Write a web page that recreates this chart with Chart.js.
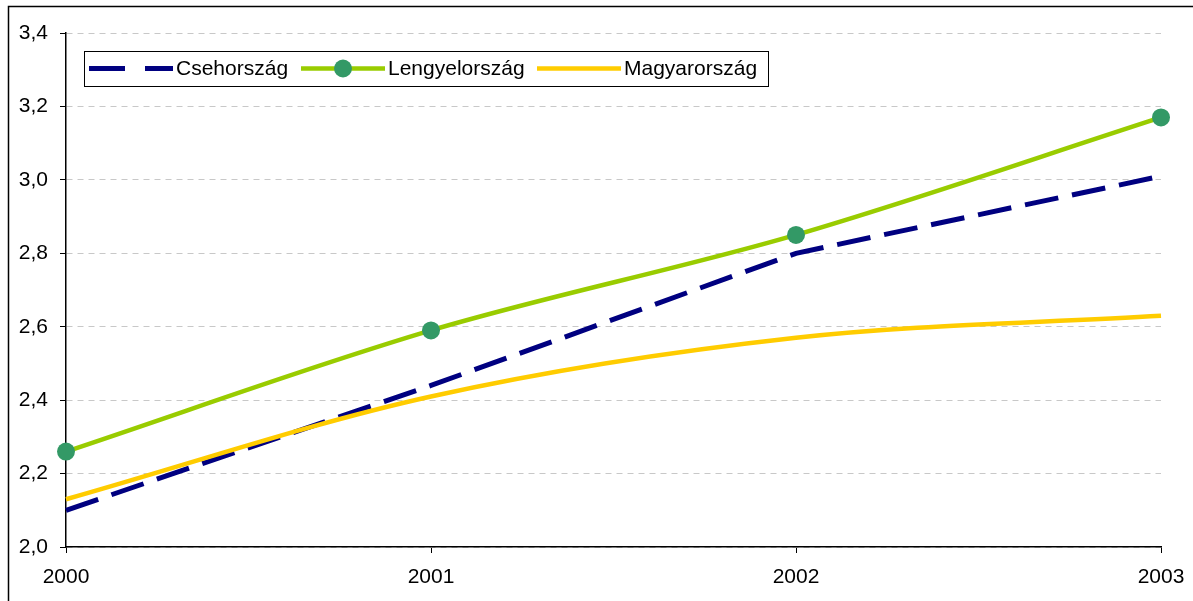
<!DOCTYPE html>
<html>
<head>
<meta charset="utf-8">
<script src="https://cdn.jsdelivr.net/npm/chart.js@4/dist/chart.umd.min.js"></script>
<style>
  html, body { margin: 0; padding: 0; background: #fff; }
  #wrap { width: 1193px; height: 601px; position: relative; }
</style>
</head>
<body>
<div id="wrap"><canvas id="chart"></canvas></div>
<script>
// data
const years   = ["2000", "2001", "2002", "2003"];
const cseh    = [2.10, 2.44, 2.80, 3.01];
const lengyel = [2.26, 2.59, 2.85, 3.17];
const magyar  = [2.13, 2.41, 2.57, 2.63];
const yTicks  = [2.0, 2.2, 2.4, 2.6, 2.8, 3.0, 3.2, 3.4];

const FONT = "'Liberation Sans', Arial, sans-serif";

// outer frame (left + top edges only, like the reference crop)
const framePlugin = {
  id: "frame",
  afterDraw(chart) {
    const c = chart.ctx;
    c.save();
    c.strokeStyle = "#000";
    c.lineWidth = 1.5;
    c.beginPath();
    c.moveTo(8.5, 601);
    c.lineTo(8.5, 6.5);
    c.lineTo(1193, 6.5);
    c.stroke();
    c.restore();
  }
};

// boxed legend inside the plot, top-left
const legendPlugin = {
  id: "boxLegend",
  afterDraw(chart) {
    const c = chart.ctx;
    const box = { x: 84, y: 51, w: 684, h: 35 };
    const sampleX = [89, 301, 537];
    const sampleW = 84;
    const cy = box.y + box.h / 2;
    c.save();
    c.font = "21px " + FONT;
    c.textBaseline = "middle";
    chart.data.datasets.forEach((ds, i) => {
      const x = sampleX[i];
      c.beginPath();
      c.strokeStyle = ds.borderColor;
      c.lineWidth = ds.borderWidth;
      c.setLineDash(ds.borderDash ? [36, 20] : []);
      c.moveTo(x, cy);
      c.lineTo(x + sampleW, cy);
      c.stroke();
      c.setLineDash([]);
      if (ds.pointRadius > 0) {
        c.beginPath();
        c.fillStyle = ds.pointBackgroundColor;
        c.arc(x + sampleW / 2, cy, ds.pointRadius, 0, Math.PI * 2);
        c.fill();
      }
      c.fillStyle = "#000";
      c.fillText(ds.label, x + sampleW + 3, cy + 1);
    });
    c.strokeStyle = "#000";
    c.lineWidth = 1;
    c.strokeRect(box.x + 0.5, box.y + 0.5, box.w, box.h);
    c.restore();
  }
};

new Chart(document.getElementById("chart"), {
  type: "line",
  data: {
    labels: years,
    datasets: [
      {
        label: "Csehország",
        data: cseh,
        borderColor: "#000080",
        borderWidth: 5,
        borderDash: [34, 14],
        tension: 0,
        pointRadius: 0,
        order: 3
      },
      {
        label: "Lengyelország",
        data: lengyel,
        borderColor: "#99CC00",
        borderWidth: 4.5,
        tension: 0.33,
        pointRadius: 9,
        pointBackgroundColor: "#339966",
        pointBorderWidth: 0,
        clip: false,
        order: 2
      },
      {
        label: "Magyarország",
        data: magyar,
        borderColor: "#FFCC00",
        borderWidth: 4.5,
        tension: 0.33,
        pointRadius: 0,
        order: 1
      }
    ]
  },
  options: {
    responsive: true,
    maintainAspectRatio: false,
    animation: false,
    events: [],
    layout: { padding: { left: 0, top: 33, right: 32, bottom: 0 } },
    plugins: { legend: { display: false }, tooltip: { enabled: false } },
    scales: {
      x: {
        offset: false,
        afterFit: s => { s.height = 54; s.paddingLeft = 0; s.paddingRight = 0; },
        grid: { drawOnChartArea: false, drawTicks: true, tickLength: 6, tickColor: "#000" },
        border: { color: "#000", width: 1.5 },
        ticks: { color: "#000", font: { family: FONT, size: 21 }, padding: 12, maxRotation: 0 }
      },
      y: {
        min: 2.0,
        max: 3.4,
        afterFit: s => { s.width = 66; },
        afterBuildTicks: s => { s.ticks = yTicks.map(v => ({ value: v })); },
        grid: { color: "#c8c8c8", lineWidth: 1, tickLength: 6, tickColor: "#000" },
        border: { color: "#000", width: 1.5, dash: [6, 5] },
        ticks: {
          color: "#000",
          font: { family: FONT, size: 21 },
          padding: 12,
          callback: v => v.toFixed(1).replace(".", ",")
        }
      }
    }
  },
  plugins: [framePlugin, legendPlugin]
});
</script>
</body>
</html>
